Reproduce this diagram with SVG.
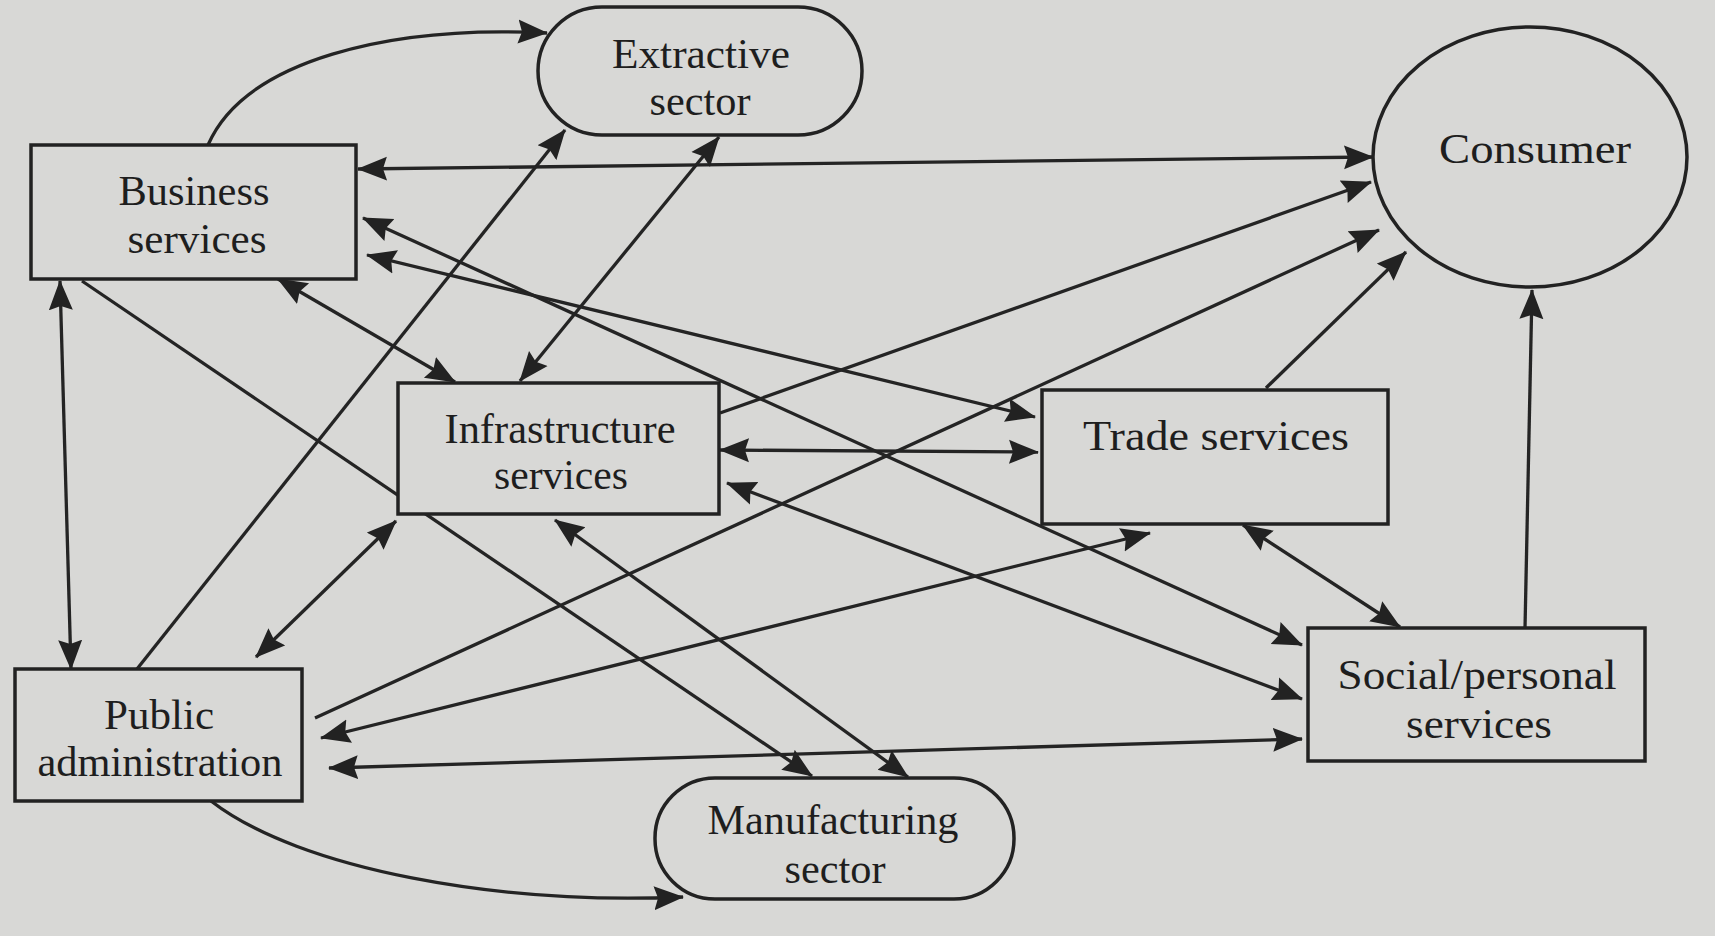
<svg xmlns="http://www.w3.org/2000/svg" width="1715" height="936" viewBox="0 0 1715 936">
<style>
.node{fill:#d8d8d6;stroke:#222;stroke-width:3.5}
.lbl{font-family:"Liberation Serif","Times New Roman",serif;font-size:42px;fill:#1e1e1e;text-anchor:middle}
.c{fill:none;stroke:#242424;stroke-width:3.3}
</style>
<defs>
<marker id="ah" markerUnits="userSpaceOnUse" markerWidth="30" markerHeight="26" refX="29" refY="13" orient="auto-start-reverse">
<path d="M0,1 L30,13 L0,25 L4,13 z" fill="#222"/>
</marker>
</defs>
<rect x="0" y="0" width="1715" height="936" fill="#d8d8d6"/>
<g id="connectors">
<path class="c" d="M208,145 C245,60 390,25 547,33" marker-end="url(#ah)"/>
<path class="c" d="M358,169 L1373,157" marker-start="url(#ah)" marker-end="url(#ah)"/>
<path class="c" d="M137,669 L565,130" marker-end="url(#ah)"/>
<path class="c" d="M719,137 L520,381" marker-start="url(#ah)" marker-end="url(#ah)"/>
<path class="c" d="M278,279 L455,382" marker-start="url(#ah)" marker-end="url(#ah)"/>
<path class="c" d="M60,281 L71,669" marker-start="url(#ah)" marker-end="url(#ah)"/>
<path class="c" d="M82,281 L812,776" marker-end="url(#ah)"/>
<path class="c" d="M363,218 L1302,645" marker-start="url(#ah)" marker-end="url(#ah)"/>
<path class="c" d="M367,255 L1035,417" marker-start="url(#ah)" marker-end="url(#ah)"/>
<path class="c" d="M720,413 L1371,182" marker-end="url(#ah)"/>
<path class="c" d="M315,718 L1379,230" marker-end="url(#ah)"/>
<path class="c" d="M1266,388 L1406,252" marker-end="url(#ah)"/>
<path class="c" d="M1525,628 L1532,290" marker-end="url(#ah)"/>
<path class="c" d="M720,450 L1038,452" marker-start="url(#ah)" marker-end="url(#ah)"/>
<path class="c" d="M727,483 L1302,699" marker-start="url(#ah)" marker-end="url(#ah)"/>
<path class="c" d="M329,768 L1302,739" marker-start="url(#ah)" marker-end="url(#ah)"/>
<path class="c" d="M321,738 L1150,533" marker-start="url(#ah)" marker-end="url(#ah)"/>
<path class="c" d="M256,657 L396,521" marker-start="url(#ah)" marker-end="url(#ah)"/>
<path class="c" d="M555,520 L908,777" marker-start="url(#ah)" marker-end="url(#ah)"/>
<path class="c" d="M211,801 C300,870 500,905 683,897" marker-end="url(#ah)"/>
<path class="c" d="M1243,525 L1400,627" marker-start="url(#ah)" marker-end="url(#ah)"/>
</g>
<g id="extractive">
<rect class="node" x="538" y="7" width="324" height="128" rx="64" ry="64"/>
<text class="lbl" x="701" y="68" textLength="178" lengthAdjust="spacingAndGlyphs">Extractive</text>
<text class="lbl" x="700" y="115" textLength="101" lengthAdjust="spacingAndGlyphs">sector</text>
</g>
<g id="consumer">
<ellipse class="node" cx="1530" cy="157" rx="157" ry="130"/>
<text class="lbl" x="1535" y="163" textLength="192" lengthAdjust="spacingAndGlyphs">Consumer</text>
</g>
<g id="business">
<rect class="node" x="31" y="145" width="325" height="134"/>
<text class="lbl" x="194" y="205" textLength="151" lengthAdjust="spacingAndGlyphs">Business</text>
<text class="lbl" x="197" y="253" textLength="139" lengthAdjust="spacingAndGlyphs">services</text>
</g>
<g id="infrastructure">
<rect class="node" x="398" y="383" width="321" height="131"/>
<text class="lbl" x="560" y="443" textLength="231" lengthAdjust="spacingAndGlyphs">Infrastructure</text>
<text class="lbl" x="561" y="489" textLength="134" lengthAdjust="spacingAndGlyphs">services</text>
</g>
<g id="trade">
<rect class="node" x="1042" y="390" width="346" height="134"/>
<text class="lbl" x="1216" y="450" textLength="266" lengthAdjust="spacingAndGlyphs">Trade services</text>
</g>
<g id="social">
<rect class="node" x="1308" y="628" width="337" height="133"/>
<text class="lbl" x="1477" y="689" textLength="279" lengthAdjust="spacingAndGlyphs">Social/personal</text>
<text class="lbl" x="1479" y="738" textLength="146" lengthAdjust="spacingAndGlyphs">services</text>
</g>
<g id="public">
<rect class="node" x="15" y="669" width="287" height="132"/>
<text class="lbl" x="159" y="729" textLength="110" lengthAdjust="spacingAndGlyphs">Public</text>
<text class="lbl" x="160" y="776" textLength="245" lengthAdjust="spacingAndGlyphs">administration</text>
</g>
<g id="manufacturing">
<rect class="node" x="655" y="778" width="359" height="121" rx="60" ry="60"/>
<text class="lbl" x="833" y="834" textLength="251" lengthAdjust="spacingAndGlyphs">Manufacturing</text>
<text class="lbl" x="835" y="883" textLength="101" lengthAdjust="spacingAndGlyphs">sector</text>
</g>
</svg>
